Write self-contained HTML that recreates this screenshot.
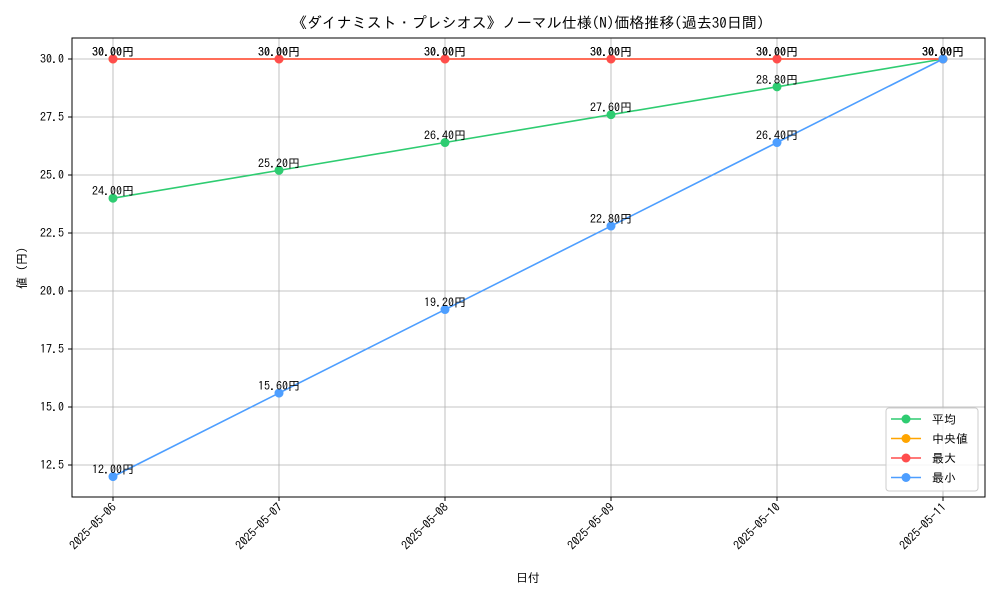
<!DOCTYPE html>
<html><head><meta charset="utf-8"><style>
body{margin:0;background:#fff;font-family:"IPAGothic","Noto Sans CJK JP",sans-serif;}
svg text{font-family:"IPAGothic","Noto Sans CJK JP",monospace;}
</style></head><body>
<svg id="chart" width="1000" height="600" xmlns="http://www.w3.org/2000/svg">
<rect width="1000" height="600" fill="#fff"/>
<text x="528" y="28" font-size="15" text-anchor="middle">《ダイナミスト・プレシオス》ノーマル仕様(N)価格推移(過去30日間)</text>
<g id="grid"></g>
<g id="series"></g>
<rect x="72" y="38" width="913" height="459" fill="none" stroke="#000" stroke-width="1"/>
<g id="axes"></g>
<text x="528" y="582" font-size="12" text-anchor="middle">日付</text>
<text transform="translate(26,268) rotate(-90)" font-size="12" text-anchor="middle">値 (円)</text>
<g>
<rect x="886" y="408" width="92" height="83" rx="3" fill="#fff" fill-opacity="0.85" stroke="#ccc"/>
<g id="legend-items"></g>
</g>
</svg>
<script>
const categories=["2025-05-06","2025-05-07","2025-05-08","2025-05-09","2025-05-10","2025-05-11"];
const avgValues=[24.0,25.2,26.4,27.6,28.8,30.0];
const medianValues=[30,30,30,30,30,30];
const maxValues=[30,30,30,30,30,30];
const minValues=[12.0,15.6,19.2,22.8,26.4,30.0];
const yTicks=[12.5,15.0,17.5,20.0,22.5,25.0,27.5,30.0];
const seriesNames=["平均","中央値","最大","最小"];
const NS="http://www.w3.org/2000/svg";
const x0=113,dx=166;
function xs(i){return x0+i*dx;}
function ys(v){return 59+(30-v)*(406/17.5);}
function mk(t,a,p){const e=document.createElementNS(NS,t);for(const k in a)e.setAttribute(k,a[k]);p.appendChild(e);return e;}
const grid=document.getElementById('grid'),axes=document.getElementById('axes'),ser=document.getElementById('series');
categories.forEach((c,i)=>{
 const l=mk('line',{x1:xs(i),x2:xs(i),y1:38,y2:497,stroke:'#b0b0b0','stroke-width':0.8},grid);
 
 
 const tk=mk('line',{x1:xs(i),x2:xs(i),y1:497,y2:501,stroke:'#000'},axes);
 
 
 const t=mk('text',{x:xs(i)+4,y:508,'font-size':12,'text-anchor':'end',transform:`rotate(-45 ${xs(i)+4} 508)`},axes);
 t.textContent=c;
 
 
});
yTicks.forEach(v=>{
 const l=mk('line',{x1:72,x2:985,y1:ys(v),y2:ys(v),stroke:'#b0b0b0','stroke-width':0.8},grid);
 
 
 const tk=mk('line',{x1:68,x2:72,y1:ys(v),y2:ys(v),stroke:'#000'},axes);
 
 
 const t=mk('text',{x:64,y:ys(v)+4,'font-size':12,'text-anchor':'end'},axes);
 t.textContent=v.toFixed(1);
 
 
});
const series=[[avgValues,'#2ecc71','avg'],[medianValues,'#ffa500','median'],[maxValues,'#ff4d4d','max'],[minValues,'#4d9eff','min']];
series.forEach(([vals,col,nm])=>{
 const g=mk('g',{},ser);
 
 
 const pl=mk('polyline',{points:vals.map((v,i)=>xs(i)+','+ys(v)).join(' '),fill:'none',stroke:col,'stroke-width':1.6},g);
 
 
 vals.forEach((v,i)=>{
  const c=mk('circle',{cx:xs(i),cy:ys(v),r:4.5,fill:col},g);
  
  
  const t=mk('text',{x:xs(i),y:ys(v)-3,'font-size':12,'text-anchor':'middle'},g);
  t.textContent=v.toFixed(2)+'円';
  
  
 });
});
const li=document.getElementById('legend-items');
series.forEach(([v,col,nm],k)=>{
 const y=419+k*19.5;
 const g=mk('g',{},li);
 
 
 mk('line',{x1:891,x2:921,y1:y,y2:y,stroke:col,'stroke-width':1.6},g);
 mk('circle',{cx:906,cy:y,r:4.5,fill:col},g);
 const t=mk('text',{x:932,y:y+4.5,'font-size':12},g);
 t.textContent=seriesNames[k];
});
</script>
</body></html>
